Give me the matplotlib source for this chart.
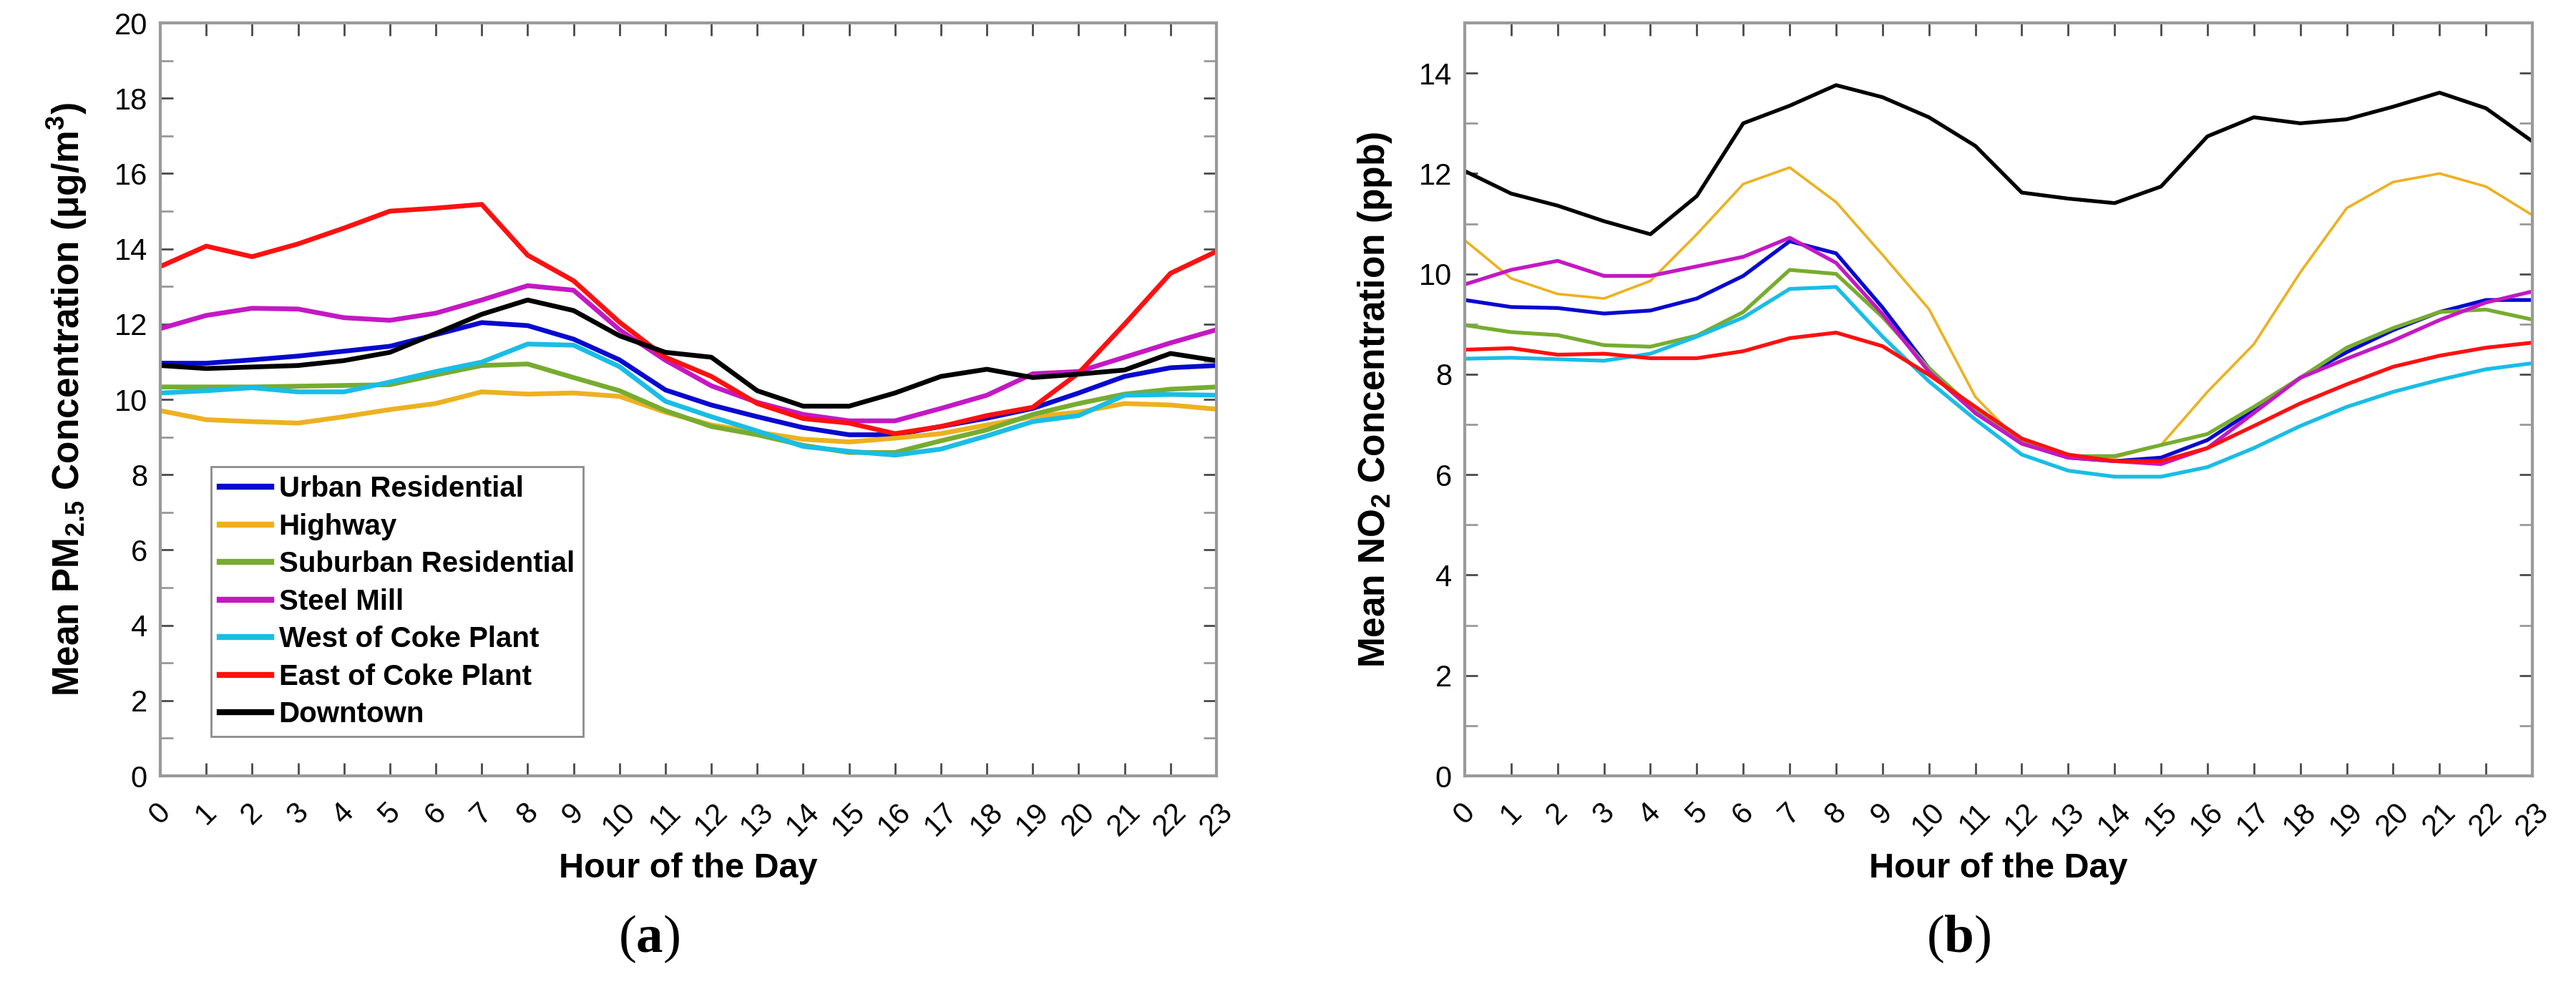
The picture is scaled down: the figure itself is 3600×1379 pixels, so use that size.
import matplotlib
matplotlib.use("Agg")
import matplotlib.pyplot as plt
from matplotlib.ticker import MultipleLocator

plt.rcParams['font.family'] = ['Liberation Sans', 'DejaVu Sans']
plt.rcParams['mathtext.fontset'] = 'custom'
plt.rcParams['mathtext.rm'] = 'Liberation Serif'
plt.rcParams['mathtext.bf'] = 'Liberation Serif:bold'

# hour of the day
hours = list(range(24))

sites = ["Urban Residential", "Highway", "Suburban Residential", "Steel Mill",
         "West of Coke Plant", "East of Coke Plant", "Downtown"]
site_colors = ["#0808d0", "#edb120", "#77ac30", "#c418c4", "#19bde6", "#ff1010", "#000000"]

# (a) mean PM2.5, ug/m3
pm_urban = [10.96, 10.96, 11.05, 11.15, 11.28, 11.41, 11.72, 12.04, 11.96, 11.60, 11.05, 10.25,
            9.85, 9.54, 9.25, 9.06, 9.06, 9.28, 9.50, 9.76, 10.17, 10.61, 10.84, 10.90]
pm_highway = [9.70, 9.46, 9.41, 9.37, 9.54, 9.73, 9.89, 10.20, 10.14, 10.17, 10.08, 9.66,
              9.32, 9.13, 8.94, 8.87, 8.97, 9.09, 9.32, 9.54, 9.66, 9.89, 9.85, 9.74]
pm_suburban = [10.33, 10.33, 10.33, 10.35, 10.37, 10.39, 10.65, 10.90, 10.94, 10.58, 10.23, 9.70,
               9.28, 9.06, 8.78, 8.59, 8.59, 8.90, 9.19, 9.60, 9.89, 10.14, 10.27, 10.33]
pm_steel = [11.88, 12.23, 12.42, 12.40, 12.17, 12.10, 12.29, 12.64, 13.02, 12.90, 11.85, 11.04,
            10.36, 9.92, 9.60, 9.43, 9.43, 9.76, 10.11, 10.68, 10.74, 11.12, 11.50, 11.85]
pm_west = [10.17, 10.23, 10.31, 10.20, 10.20, 10.46, 10.74, 10.99, 11.47, 11.44, 10.87, 9.95,
           9.54, 9.16, 8.75, 8.62, 8.52, 8.68, 9.03, 9.41, 9.57, 10.11, 10.13, 10.11]
pm_east = [13.53, 14.07, 13.79, 14.13, 14.55, 15.00, 15.08, 15.18, 13.83, 13.15, 12.05, 11.12,
           10.61, 9.89, 9.49, 9.37, 9.09, 9.28, 9.57, 9.79, 10.70, 12.00, 13.35, 13.93]
pm_downtown = [10.90, 10.82, 10.86, 10.90, 11.03, 11.25, 11.75, 12.26, 12.64, 12.36, 11.69, 11.25,
               11.12, 10.23, 9.82, 9.82, 10.17, 10.61, 10.80, 10.58, 10.67, 10.78, 11.22, 11.03]

# (b) mean NO2, ppb
no2_urban = [9.48, 9.34, 9.32, 9.21, 9.27, 9.51, 9.96, 10.65, 10.41, 9.33, 8.12, 7.23,
             6.62, 6.34, 6.27, 6.34, 6.69, 7.29, 7.93, 8.44, 8.88, 9.24, 9.48, 9.48]
no2_highway = [10.67, 9.91, 9.60, 9.51, 9.86, 10.79, 11.79, 12.12, 11.43, 10.38, 9.30, 7.55,
               6.60, 6.34, 6.34, 6.59, 7.65, 8.60, 10.03, 11.31, 11.83, 12.00, 11.74, 11.17]
no2_suburban = [8.98, 8.84, 8.78, 8.58, 8.55, 8.77, 9.24, 10.08, 10.00, 9.14, 8.12, 7.29,
                6.66, 6.37, 6.37, 6.59, 6.81, 7.35, 7.93, 8.53, 8.92, 9.24, 9.29, 9.09]
no2_steel = [9.79, 10.08, 10.26, 9.96, 9.96, 10.15, 10.34, 10.72, 10.22, 9.20, 8.05, 7.23,
             6.62, 6.34, 6.27, 6.21, 6.53, 7.23, 7.93, 8.31, 8.67, 9.08, 9.43, 9.65]
no2_west = [8.31, 8.33, 8.30, 8.27, 8.41, 8.75, 9.13, 9.70, 9.74, 8.75, 7.86, 7.10,
            6.40, 6.08, 5.96, 5.96, 6.15, 6.53, 6.97, 7.35, 7.65, 7.89, 8.10, 8.22]
no2_east = [8.49, 8.52, 8.39, 8.41, 8.32, 8.32, 8.46, 8.72, 8.83, 8.56, 7.99, 7.35,
            6.72, 6.40, 6.27, 6.27, 6.53, 6.97, 7.42, 7.80, 8.15, 8.37, 8.53, 8.63]
no2_downtown = [12.05, 11.60, 11.36, 11.05, 10.79, 11.55, 13.00, 13.35, 13.76, 13.52, 13.12, 12.55,
                11.62, 11.50, 11.41, 11.74, 12.74, 13.12, 13.00, 13.08, 13.33, 13.61, 13.30, 12.64]

pm_series = [pm_urban, pm_highway, pm_suburban, pm_steel, pm_west, pm_east, pm_downtown]
no2_series = [no2_urban, no2_highway, no2_suburban, no2_steel, no2_west, no2_east, no2_downtown]


def style_axes(ax, ymax, ylabel, label_x):
    ax.set_xlim(0, 23)
    ax.set_ylim(0, ymax)
    ax.set_xticks(hours)
    ax.set_xticklabels([str(h) for h in hours], rotation=45, ha='center', va='top')
    ax.yaxis.set_major_locator(MultipleLocator(2))
    ax.yaxis.set_minor_locator(MultipleLocator(1))
    ax.tick_params(axis='both', which='both', direction='in', top=True, right=True,
                   length=13, width=2)
    ax.tick_params(axis='both', which='major', color='#4a4a4a', labelsize=30)
    ax.tick_params(axis='y', which='minor', color='#999999')
    ax.tick_params(axis='x', pad=22)
    ax.tick_params(axis='y', pad=13)
    for sp in ax.spines.values():
        sp.set_color('#9a9a9a')
        sp.set_linewidth(3)
    ax.set_xlabel("Hour of the Day", fontsize=35, fontweight='bold')
    ax.xaxis.set_label_coords(0.5, -0.102)
    ax.set_ylabel(ylabel, fontsize=37, fontweight='bold', va='center')
    ax.yaxis.set_label_coords(label_x, 0.5)


fig = plt.figure(figsize=(36, 13.79), dpi=100)
ax1 = fig.add_axes([224 / 3600, 1 - 1084 / 1379, 1476 / 3600, 1052 / 1379])
ax2 = fig.add_axes([2047 / 3600, 1 - 1084 / 1379, 1492 / 3600, 1052 / 1379])

for name, vals, col in zip(sites, pm_series, site_colors):
    ax1.plot(hours, vals, color=col, linewidth=4.8, label=name)

for name, vals, col in zip(sites, no2_series, site_colors):
    lw = 2.6 if name == "Highway" else 3.8
    ax2.plot(hours, vals, color=col, linewidth=lw, label=name)

style_axes(ax1, 20, "Mean PM$_\\mathregular{2.5}$ Concentration (μg/m$^\\mathregular{3}$)", -0.088)
style_axes(ax2, 15, "Mean NO$_\\mathregular{2}$ Concentration (ppb)", -0.084)

leg = ax1.legend(loc='lower left', bbox_to_anchor=(0.048, 0.052), borderaxespad=0,
                 prop={'size': 29, 'weight': 'bold'}, handlelength=1.8, handletextpad=0.25,
                 borderpad=0.3, labelspacing=0.36, fancybox=False, framealpha=1)
leg.get_frame().set_edgecolor('#8c8c8c')
leg.get_frame().set_linewidth(2)
for line in leg.get_lines():
    line.set_linewidth(6)

fig.text(907 / 3600, 1 - 1312 / 1379, "($\\mathbf{a}$)", fontsize=54,
         family='Liberation Serif', ha='center', va='center')
fig.text(2737 / 3600, 1 - 1312 / 1379, "($\\mathbf{b}$)", fontsize=54,
         family='Liberation Serif', ha='center', va='center')

fig.savefig("out.png", dpi=100)
